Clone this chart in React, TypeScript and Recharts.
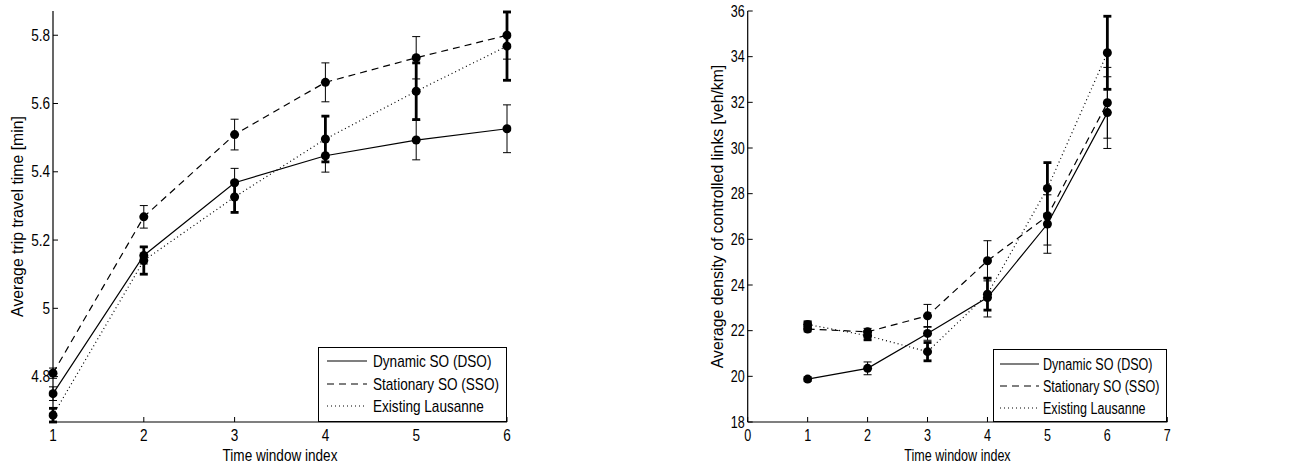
import { LineChart, Line, XAxis, YAxis, ErrorBar, Legend } from "recharts";

// time window index (shared by both panels)
const windows = [1, 2, 3, 4, 5, 6];

// average trip travel time [min] and half-width of the error bars
const dsoTime = [4.75, 5.155, 5.368, 5.447, 5.493, 5.526];
const dsoTimeErr = [0.02, 0.025, 0.042, 0.048, 0.058, 0.07];
const ssoTime = [4.81, 5.268, 5.509, 5.662, 5.734, 5.8];
const ssoTimeErr = [0.015, 0.033, 0.045, 0.057, 0.062, 0.07];
const exTime = [4.687, 5.14, 5.326, 5.496, 5.636, 5.768];
const exTimeErr = [0.02, 0.04, 0.045, 0.067, 0.083, 0.1];

// average density of controlled links [veh/km]
const dsoDen = [19.88, 20.35, 21.88, 23.45, 26.67, 31.55];
const dsoDenErr = [0.1, 0.28, 0.3, 0.85, 1.28, 1.57];
const ssoDen = [22.07, 21.95, 22.65, 25.06, 27.02, 31.98];
const ssoDenErr = [0.12, 0.15, 0.5, 0.88, 1.27, 1.55];
const exDen = [22.27, 21.78, 21.08, 23.6, 28.23, 34.17];
const exDenErr = [0.12, 0.18, 0.4, 0.7, 1.13, 1.6];

const timeTicksX = [1, 2, 3, 4, 5, 6];
const timeTicksY = [4.8, 5, 5.2, 5.4, 5.6, 5.8];
const denTicksX = [0, 1, 2, 3, 4, 5, 6, 7];
const denTicksY = [18, 20, 22, 24, 26, 28, 30, 32, 34, 36];

const seriesNames = ["Dynamic SO (DSO)", "Stationary SO (SSO)", "Existing Lausanne"];

const FONT = '"Liberation Sans", Arial, Helvetica, sans-serif';
const FS = 15.8;
const DASH = ["", "7 5", "1 3"];
const ERR_W = [1, 1, 2.8];
const TICK = 5;
const GAP = 3;

const build = (d: number[], dE: number[], s: number[], sE: number[], e: number[], eE: number[]) =>
  windows.map((w, i) => ({
    w,
    dso: d[i],
    dsoErr: dE[i],
    sso: s[i],
    ssoErr: sE[i],
    ex: e[i],
    exErr: eE[i],
  }));

const timeData = build(dsoTime, dsoTimeErr, ssoTime, ssoTimeErr, exTime, exTimeErr);
const denData = build(dsoDen, dsoDenErr, ssoDen, ssoDenErr, exDen, exDenErr);

// horizontal text, squeezed in x like the exported figure
function HText({ x, y, sx, anchor = "start", children }: any) {
  return (
    <text
      transform={`translate(${x} ${y}) scale(${sx} 1)`}
      dy="0.35em"
      textAnchor={anchor}
      fontSize={FS}
      fill="#000"
    >
      {children}
    </text>
  );
}

// MATLAB-style ticks: pointing into the plot box
const BottomTick = (sx: number) => (p: any) => (
  <g>
    <line x1={p.x} x2={p.x} y1={p.y - GAP} y2={p.y - GAP - TICK} stroke="#000" />
    <HText x={p.x} y={p.y + 10.7} sx={sx} anchor="middle">
      {p.payload.value}
    </HText>
  </g>
);

const LeftTick = (sx: number) => (p: any) => (
  <g>
    <line x1={p.x + GAP} x2={p.x + GAP + TICK} y1={p.y} y2={p.y} stroke="#000" />
    <HText x={p.x} y={p.y} sx={sx} anchor="end">
      {p.payload.value}
    </HText>
  </g>
);

const TopTick = (p: any) => (
  <line x1={p.x} x2={p.x} y1={p.y + GAP} y2={p.y + GAP + TICK} stroke="#000" />
);

const RightTick = (p: any) => (
  <line x1={p.x - GAP} x2={p.x - GAP - TICK} y1={p.y} y2={p.y} stroke="#000" />
);

function XTitle({ viewBox, text, sx, dy }: any) {
  return (
    <HText x={viewBox.x + viewBox.width / 2} y={viewBox.y + dy} sx={sx} anchor="middle">
      {text}
    </HText>
  );
}

function YTitle({ viewBox, text, dx }: any) {
  const cx = viewBox.x + dx;
  const cy = viewBox.y + viewBox.height / 2;
  return (
    <text x={cx} y={cy} dy="0.35em" textAnchor="middle" fontSize={FS} fill="#000" transform={`rotate(-90 ${cx} ${cy})`}>
      {text}
    </text>
  );
}

function BoxLegend({ box, sx }: any) {
  return (
    <svg width={box.width} height={box.height} style={{ display: "block" }}>
      <rect x={0.5} y={0.5} width={box.width - 1} height={box.height - 1} fill="#fff" stroke="#000" />
      {seriesNames.map((name, i) => (
        <g key={name}>
          <line
            x1={box.lineX0}
            x2={box.lineX1}
            y1={box.rows[i]}
            y2={box.rows[i]}
            stroke="#000"
            strokeWidth={1.2}
            strokeDasharray={DASH[i] || undefined}
          />
          <HText x={box.textX} y={box.rows[i]} sx={sx}>
            {name}
          </HText>
        </g>
      ))}
    </svg>
  );
}

function Panel({ data, width, yWidth, right, xDomain, xTicks, yDomain, yTicks, xTitle, yTitle, yTitleDx, sx, box }: any) {
  const keys = ["dso", "sso", "ex"];
  return (
    <LineChart width={width} height={466} data={data} margin={{ top: 11, right, bottom: 0, left: 0 }}>
      <XAxis
        dataKey="w"
        type="number"
        domain={xDomain}
        ticks={xTicks}
        interval={0}
        allowDataOverflow
        height={44}
        tickSize={0}
        tickMargin={GAP}
        tick={BottomTick(sx)}
        axisLine={{ stroke: "#000", strokeWidth: 1.2 }}
        label={<XTitle text={xTitle} sx={sx} dy={33} />}
      />
      <XAxis
        xAxisId="top"
        orientation="top"
        type="number"
        domain={xDomain}
        ticks={xTicks}
        interval={0}
        allowDataOverflow
        height={0}
        tickSize={0}
        tickMargin={GAP}
        tick={TopTick}
        axisLine={{ stroke: "#000", strokeWidth: 1.2 }}
      />
      <YAxis
        type="number"
        domain={yDomain}
        ticks={yTicks}
        interval={0}
        allowDataOverflow
        width={yWidth}
        tickSize={0}
        tickMargin={GAP}
        tick={LeftTick(sx)}
        axisLine={{ stroke: "#000", strokeWidth: 1.2 }}
        label={<YTitle text={yTitle} dx={yTitleDx} />}
      />
      <YAxis
        yAxisId="right"
        orientation="right"
        type="number"
        domain={yDomain}
        ticks={yTicks}
        interval={0}
        allowDataOverflow
        width={0}
        tickSize={0}
        tickMargin={GAP}
        tick={RightTick}
        axisLine={{ stroke: "#000", strokeWidth: 1.2 }}
      />
      {keys.map((k, i) => (
        <Line
          key={k}
          dataKey={k}
          name={seriesNames[i]}
          type="linear"
          stroke="#000"
          strokeWidth={1.2}
          strokeDasharray={DASH[i] || undefined}
          dot={{ r: 4.5, fill: "#000", stroke: "#000", strokeWidth: 0, clipDot: false }}
          isAnimationActive={false}
        >
          <ErrorBar
            dataKey={`${k}Err`}
            direction="y"
            width={4}
            stroke="#000"
            strokeWidth={ERR_W[i]}
            isAnimationActive={false}
          />
        </Line>
      ))}
      <Legend
        layout="vertical"
        align="center"
        verticalAlign="middle"
        wrapperStyle={{ left: box.left, top: box.top, width: box.width, height: box.height }}
        content={() => <BoxLegend box={box} sx={sx} />}
      />
    </LineChart>
  );
}

export default function App() {
  return (
    <div style={{ position: "absolute", left: 0, top: 0, width: 1310, height: 466, background: "#fff", fontFamily: FONT }}>
      <div style={{ position: "absolute", left: 0, top: 0 }}>
        <Panel
          data={timeData}
          width={560}
          yWidth={53}
          right={53}
          xDomain={[1, 6]}
          xTicks={timeTicksX}
          yDomain={[4.667, 5.871]}
          yTicks={timeTicksY}
          xTitle="Time window index"
          yTitle="Average trip travel time [min]"
          yTitleDx={17.5}
          sx={0.86}
          box={{ left: 318, top: 347, width: 189, height: 75, lineX0: 9, lineX1: 49, textX: 55, rows: [14, 37, 59] }}
        />
      </div>
      <div style={{ position: "absolute", left: 660, top: 0 }}>
        <Panel
          data={denData}
          width={650}
          yWidth={87.7}
          right={142.7}
          xDomain={[0, 7]}
          xTicks={denTicksX}
          yDomain={[18, 36]}
          yTicks={denTicksY}
          xTitle="Time window index"
          yTitle="Average density of controlled links [veh/km]"
          yTitleDx={57.5}
          sx={0.795}
          box={{ left: 333.3, top: 349, width: 174, height: 73, lineX0: 7, lineX1: 46, textX: 50, rows: [15, 37, 59] }}
        />
      </div>
    </div>
  );
}
